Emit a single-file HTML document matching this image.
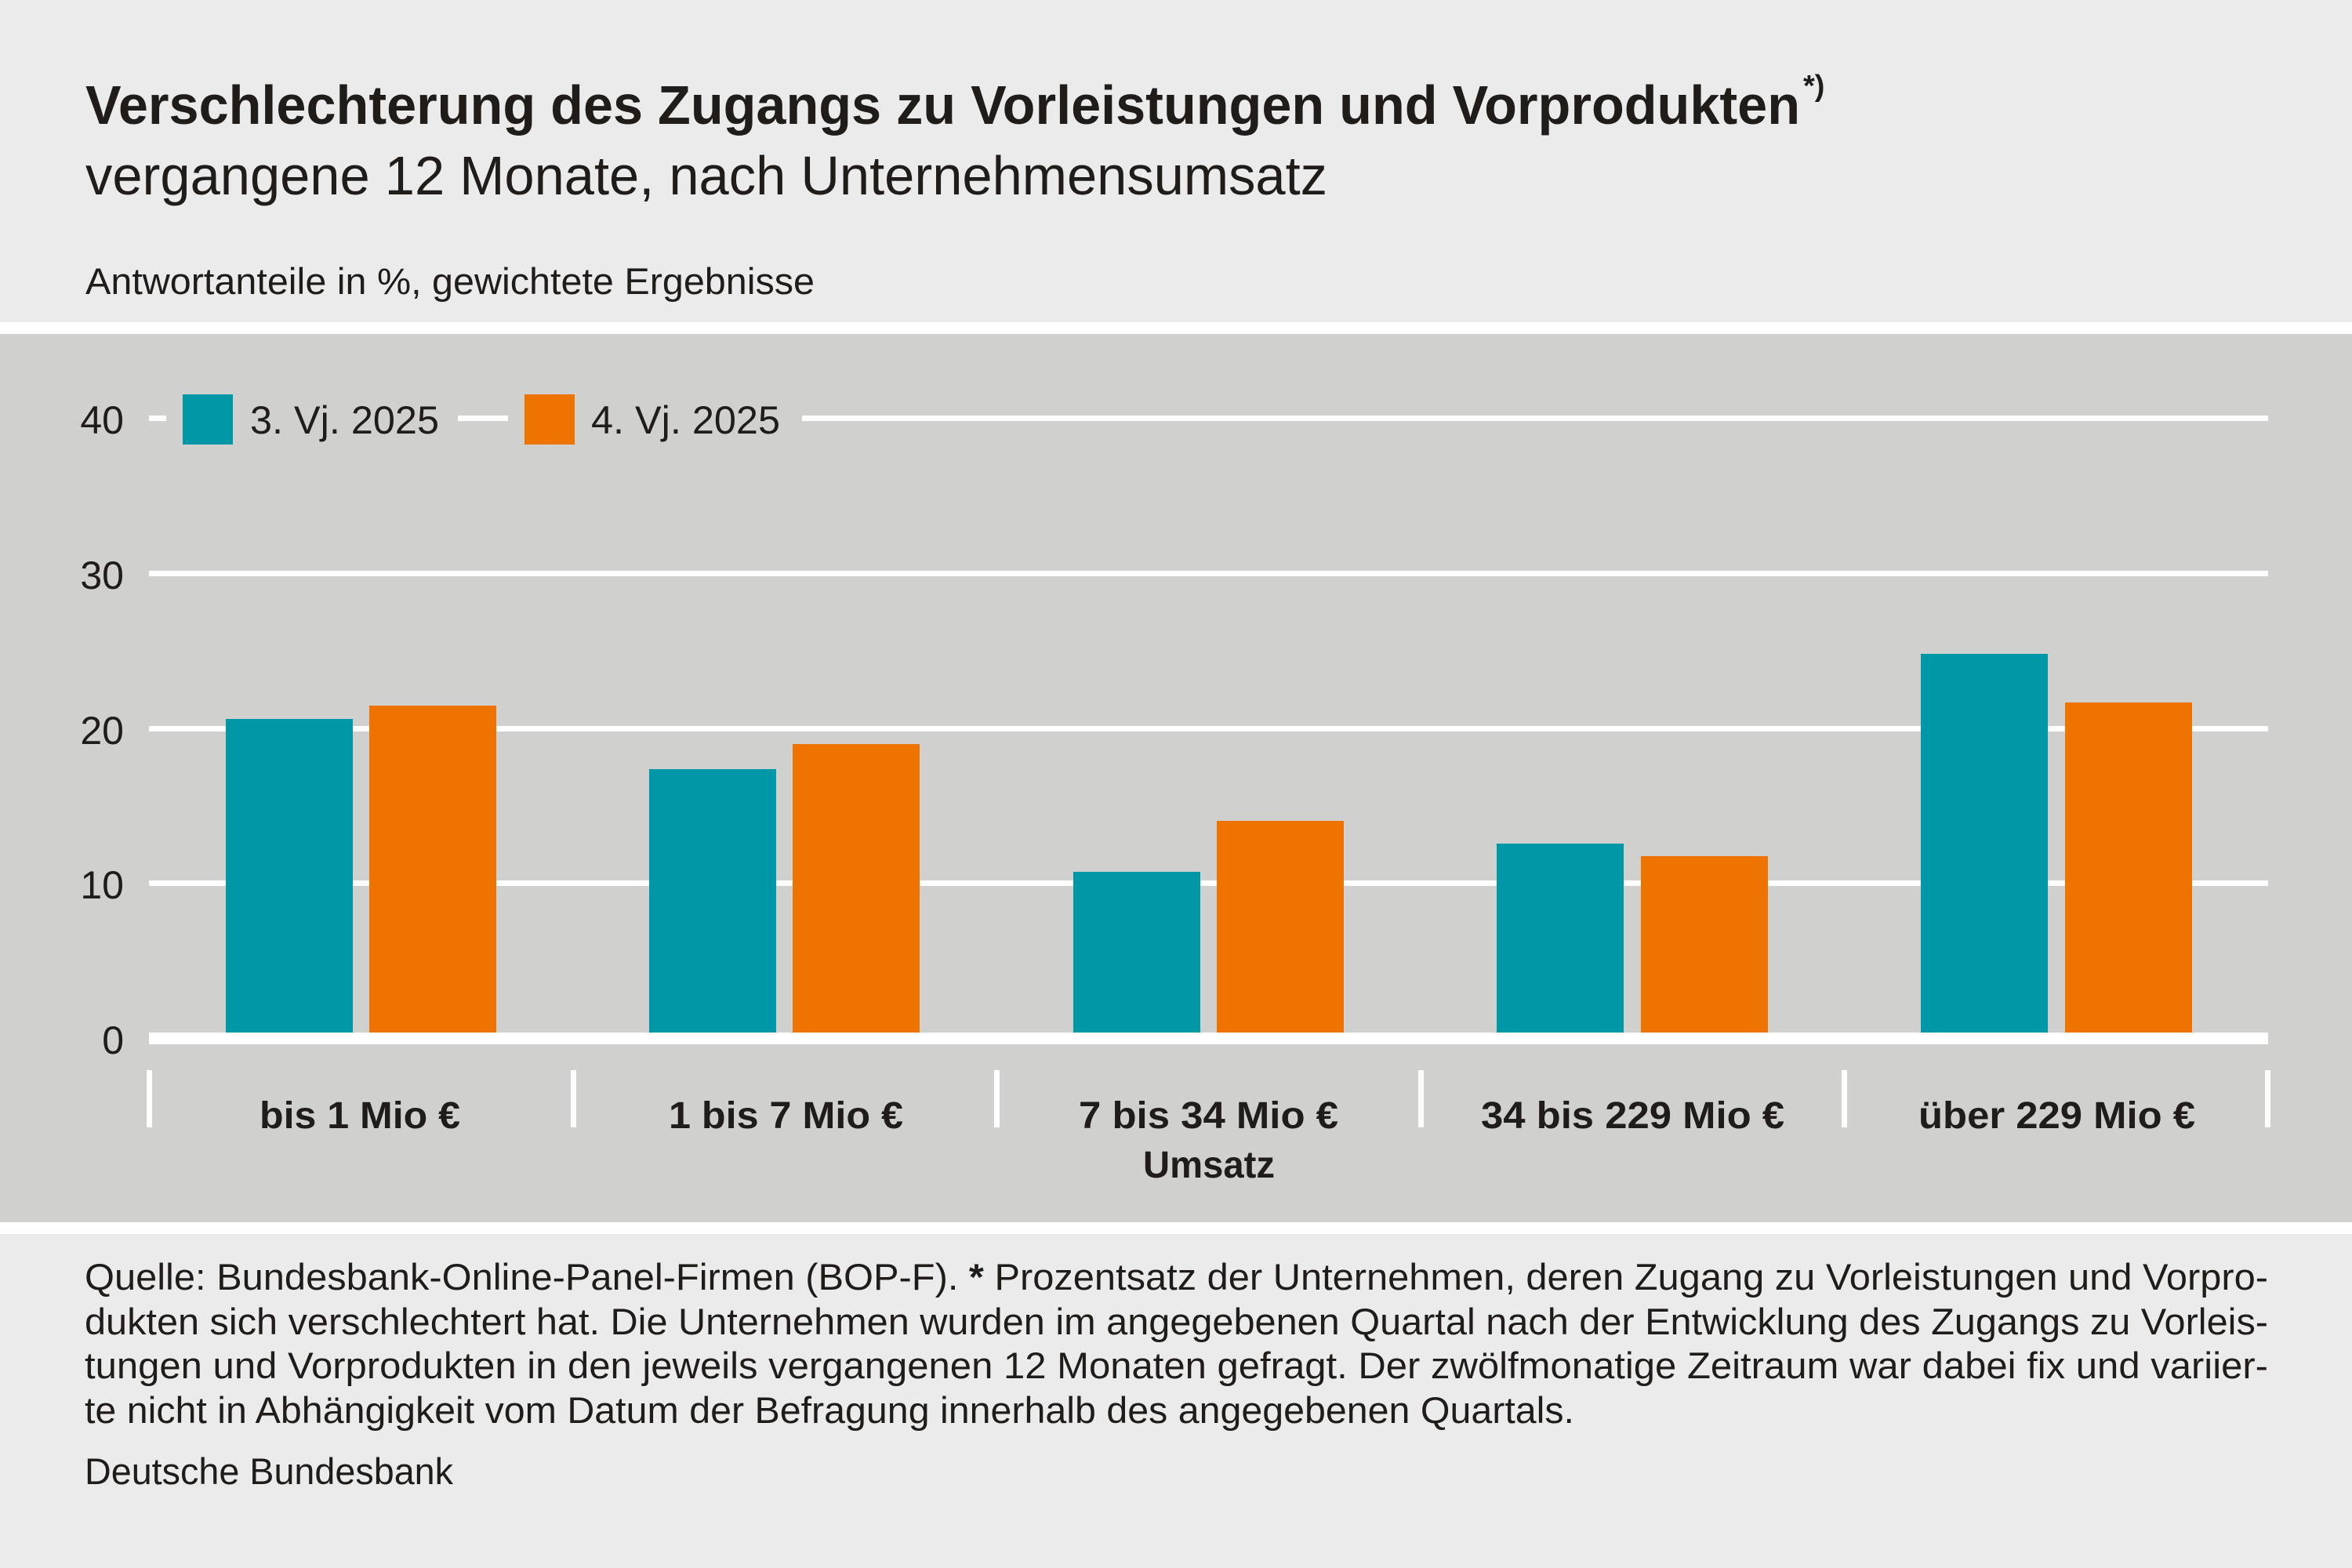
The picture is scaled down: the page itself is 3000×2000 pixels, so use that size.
<!DOCTYPE html>
<html><head><meta charset="utf-8"><style>
html,body{margin:0;padding:0;background:#ebebeb;}
svg{display:block;}
text{font-family:"Liberation Sans",sans-serif;fill:#1f1c1a;}
</style></head><body>
<svg width="3000" height="2000" viewBox="0 0 3000 2000" xmlns="http://www.w3.org/2000/svg">
<rect x="0" y="0" width="3000" height="2000" fill="#ebebeb"/>
<rect x="0" y="411" width="3000" height="15" fill="#ffffff"/>
<rect x="0" y="426" width="3000" height="1133" fill="#d0d0ce"/>
<rect x="0" y="1559" width="3000" height="15" fill="#ffffff"/>

<text x="109" y="158" font-size="70" font-weight="bold" textLength="2187" lengthAdjust="spacingAndGlyphs">Verschlechterung des Zugangs zu Vorleistungen und Vorprodukten</text>
<text x="2300" y="122" font-size="38" font-weight="bold">*)</text>
<text x="109" y="248" font-size="70" textLength="1584" lengthAdjust="spacingAndGlyphs">vergangene 12 Monate, nach Unternehmensumsatz</text>
<text x="109" y="375" font-size="47" textLength="930" lengthAdjust="spacingAndGlyphs">Antwortanteile in %, gewichtete Ergebnisse</text>

<!-- gridlines -->
<g fill="#ffffff">
<rect x="190" y="530" width="22" height="7"/>
<rect x="584" y="530" width="64" height="7"/>
<rect x="1023" y="530" width="1870" height="7"/>
<rect x="190" y="728" width="2703" height="7"/>
<rect x="190" y="926" width="2703" height="7"/>
<rect x="190" y="1123" width="2703" height="7"/>
</g>
<g font-size="50" text-anchor="end">
<text x="158" y="553">40</text>
<text x="158" y="751">30</text>
<text x="158" y="949">20</text>
<text x="158" y="1146">10</text>
<text x="158" y="1344">0</text>
</g>

<!-- legend -->
<rect x="233" y="503" width="64" height="64" fill="#0098a7"/>
<text x="319" y="553" font-size="50" textLength="241" lengthAdjust="spacingAndGlyphs">3. Vj. 2025</text>
<rect x="669" y="503" width="64" height="64" fill="#ef7300"/>
<text x="754" y="553" font-size="50" textLength="241" lengthAdjust="spacingAndGlyphs">4. Vj. 2025</text>

<!-- bars -->
<g fill="#0098a7">
<rect x="288" y="917" width="162" height="401"/>
<rect x="828" y="981" width="162" height="337"/>
<rect x="1369" y="1112" width="162" height="206"/>
<rect x="1909" y="1076" width="162" height="242"/>
<rect x="2450" y="834" width="162" height="484"/>
</g>
<g fill="#ef7300">
<rect x="471" y="900" width="162" height="418"/>
<rect x="1011" y="949" width="162" height="369"/>
<rect x="1552" y="1047" width="162" height="271"/>
<rect x="2093" y="1092" width="162" height="226"/>
<rect x="2634" y="896" width="162" height="422"/>
</g>
<rect x="190" y="1317" width="2703" height="15" fill="#ffffff"/>

<!-- ticks -->
<g fill="#ffffff">
<rect x="187" y="1365" width="7" height="73"/>
<rect x="728" y="1365" width="7" height="73"/>
<rect x="1268" y="1365" width="7" height="73"/>
<rect x="1809" y="1365" width="7" height="73"/>
<rect x="2349" y="1365" width="7" height="73"/>
<rect x="2889" y="1365" width="7" height="73"/>
</g>
<g font-size="48" font-weight="bold">
<text x="331" y="1439" textLength="256" lengthAdjust="spacingAndGlyphs">bis 1 Mio €</text>
<text x="853" y="1439" textLength="299" lengthAdjust="spacingAndGlyphs">1 bis 7 Mio €</text>
<text x="1376" y="1439" textLength="331" lengthAdjust="spacingAndGlyphs">7 bis 34 Mio €</text>
<text x="1889" y="1439" textLength="387" lengthAdjust="spacingAndGlyphs">34 bis 229 Mio €</text>
<text x="2447" y="1439" textLength="353" lengthAdjust="spacingAndGlyphs">über 229 Mio €</text>
<text x="1458" y="1502" textLength="168" lengthAdjust="spacingAndGlyphs">Umsatz</text>
</g>

<!-- footer -->
<g font-size="47">
<text x="108" y="1645" textLength="2785" lengthAdjust="spacingAndGlyphs">Quelle: Bundesbank-Online-Panel-Firmen (BOP-F). <tspan font-weight="bold">*</tspan> Prozentsatz der Unternehmen, deren Zugang zu Vorleistungen und Vorpro-</text>
<text x="108" y="1702" textLength="2785" lengthAdjust="spacingAndGlyphs">dukten sich verschlechtert hat. Die Unternehmen wurden im angegebenen Quartal nach der Entwicklung des Zugangs zu Vorleis-</text>
<text x="108" y="1758" textLength="2785" lengthAdjust="spacingAndGlyphs">tungen und Vorprodukten in den jeweils vergangenen 12 Monaten gefragt. Der zwölfmonatige Zeitraum war dabei fix und variier-</text>
<text x="108" y="1815" textLength="1900" lengthAdjust="spacingAndGlyphs">te nicht in Abhängigkeit vom Datum der Befragung innerhalb des angegebenen Quartals.</text>
<text x="108" y="1893" textLength="470" lengthAdjust="spacingAndGlyphs">Deutsche Bundesbank</text>
</g>
</svg>
</body></html>
